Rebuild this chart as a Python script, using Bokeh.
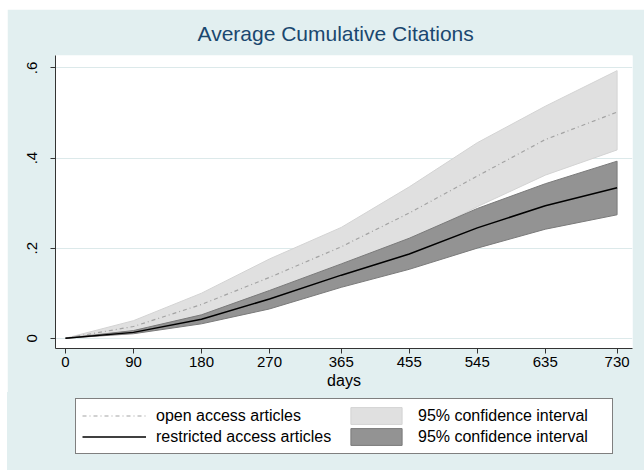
from bokeh.plotting import figure
from bokeh.layouts import column
from bokeh.models import Range1d, FixedTicker, CustomJSTickFormatter, Legend, LegendItem
from bokeh.embed import file_html
from bokeh.resources import INLINE

# ---- data ----
days = [0, 90, 180, 270, 365, 455, 545, 635, 730]
open_mean = [0, 0.026, 0.075, 0.135, 0.203, 0.278, 0.360, 0.441, 0.502]
open_hi = [0, 0.039, 0.100, 0.176, 0.246, 0.336, 0.434, 0.515, 0.594]
open_lo = [0, 0.016, 0.050, 0.096, 0.155, 0.215, 0.292, 0.362, 0.418]
restr_mean = [0, 0.013, 0.042, 0.087, 0.140, 0.187, 0.245, 0.294, 0.334]
restr_hi = [0, 0.017, 0.052, 0.106, 0.165, 0.222, 0.288, 0.343, 0.393]
restr_lo = [0, 0.010, 0.032, 0.065, 0.113, 0.153, 0.200, 0.242, 0.274]

x_ticks = [0, 90, 180, 270, 365, 455, 545, 635, 730]
y_ticks = [0, 0.2, 0.4, 0.6]
y_tick_labels = ["0", ".2", ".4", ".6"]

title_text = "Average Cumulative Citations"
x_label = "days"
legend_labels = ["open access articles", "restricted access articles",
                 "95% confidence interval", "95% confidence interval"]

BG = "#e2eff0"
FONT = "Liberation Sans"
LIGHT_FILL, LIGHT_LINE = "#e0e0e0", "#d3d3d3"
DARK_FILL, DARK_LINE = "#939393", "#7a7a7a"
OPEN_STYLE = dict(line_color="#a3a3a3", line_width=1.2, line_dash="4 3 1 3")
RESTR_STYLE = dict(line_color="black", line_width=1.5)

# ---------------- main chart ----------------
p = figure(width=637, height=383, output_backend="svg", toolbar_location=None,
           x_range=Range1d(-13.2, 750.4), y_range=Range1d(-0.0228, 0.6276),
           min_border_left=48, min_border_right=12, min_border_top=45,
           min_border_bottom=44,
           background_fill_color="white", border_fill_color=BG,
           outline_line_color=None)
p.margin = (9, 0, 0, 7)

light = p.patch(days + days[::-1], open_hi + open_lo[::-1],
                fill_color=LIGHT_FILL, line_color=LIGHT_LINE, line_width=1)
dark = p.patch(days + days[::-1], restr_hi + restr_lo[::-1],
               fill_color=DARK_FILL, line_color=DARK_LINE, line_width=1)
oline = p.line(days, open_mean, **OPEN_STYLE)
rline = p.line(days, restr_mean, **RESTR_STYLE)

p.title.text = title_text
p.title.text_font = FONT
p.title.text_font_size = "21px"
p.title.text_font_style = "normal"
p.title.text_color = "#1a476f"
p.title.align = "left"
p.title.offset = 142
p.title.standoff = 21

p.xaxis.ticker = FixedTicker(ticks=x_ticks)
p.yaxis.ticker = FixedTicker(ticks=y_ticks)
p.yaxis.formatter = CustomJSTickFormatter(
    args=dict(yt=y_ticks, yl=y_tick_labels),
    code="""
for (let i = 0; i < yt.length; i++) {
  if (Math.abs(yt[i] - tick) < 1e-9) return yl[i];
}
return '';
""")
p.yaxis.major_label_orientation = "vertical"
for ax in (p.xaxis[0], p.yaxis[0]):
    ax.major_tick_out = 5
    ax.major_tick_in = 0
    ax.minor_tick_out = 0
    ax.minor_tick_in = 0
    ax.axis_line_color = "#333333"
    ax.major_tick_line_color = "#333333"
    ax.major_label_text_font = FONT
    ax.major_label_text_font_size = "15px"
    ax.major_label_text_color = "black"
p.xaxis.major_label_standoff = 3
p.yaxis.major_label_standoff = 13
p.xaxis.axis_label = x_label
p.xaxis.axis_label_text_font = FONT
p.xaxis.axis_label_text_font_size = "16px"
p.xaxis.axis_label_text_font_style = "normal"
p.xaxis.axis_label_text_color = "black"
p.xaxis.axis_label_standoff = 2

p.xgrid.grid_line_color = None
p.ygrid.grid_line_color = "#dce9ea"
p.ygrid.grid_line_width = 1

# ---------------- legend strip ----------------
NAN = float("nan")
q = figure(width=637, height=78, output_backend="svg", toolbar_location=None,
           x_range=Range1d(0, 1), y_range=Range1d(0, 1),
           x_axis_location=None, y_axis_location=None,
           min_border_left=48, min_border_right=12, min_border_top=0,
           min_border_bottom=0,
           background_fill_color=None, border_fill_color=None)
q.styles = {"background-color": BG}
q.margin = (0, 0, 0, 7)
q.outline_line_color = None
q.grid.visible = False
# legend keys only (nothing is drawn in the strip itself)
k_open = q.line([NAN], [NAN], **OPEN_STYLE)
k_restr = q.line([NAN], [NAN], **RESTR_STYLE)
k_light = q.patch([NAN], [NAN], fill_color=LIGHT_FILL, line_color=LIGHT_LINE, line_width=1)
k_dark = q.patch([NAN], [NAN], fill_color=DARK_FILL, line_color=DARK_LINE, line_width=1)

legend = Legend(
    items=[LegendItem(label=legend_labels[0], renderers=[k_open]),
           LegendItem(label=legend_labels[1], renderers=[k_restr]),
           LegendItem(label=legend_labels[2], renderers=[k_light]),
           LegendItem(label=legend_labels[3], renderers=[k_dark])],
    location=(20, 16), orientation="vertical", nrows=2,
    glyph_width=64, glyph_height=21, label_height=21, label_width=188,
    label_standoff=10, spacing=0, padding=6, margin=0,
    border_line_color="black", border_line_width=1,
    background_fill_color="white", background_fill_alpha=1,
    label_text_font=FONT, label_text_font_size="16px", label_text_color="black")
q.add_layout(legend, "center")

layout = column(p, q, spacing=0)
open("out.html", "w").write(file_html(layout, INLINE))
